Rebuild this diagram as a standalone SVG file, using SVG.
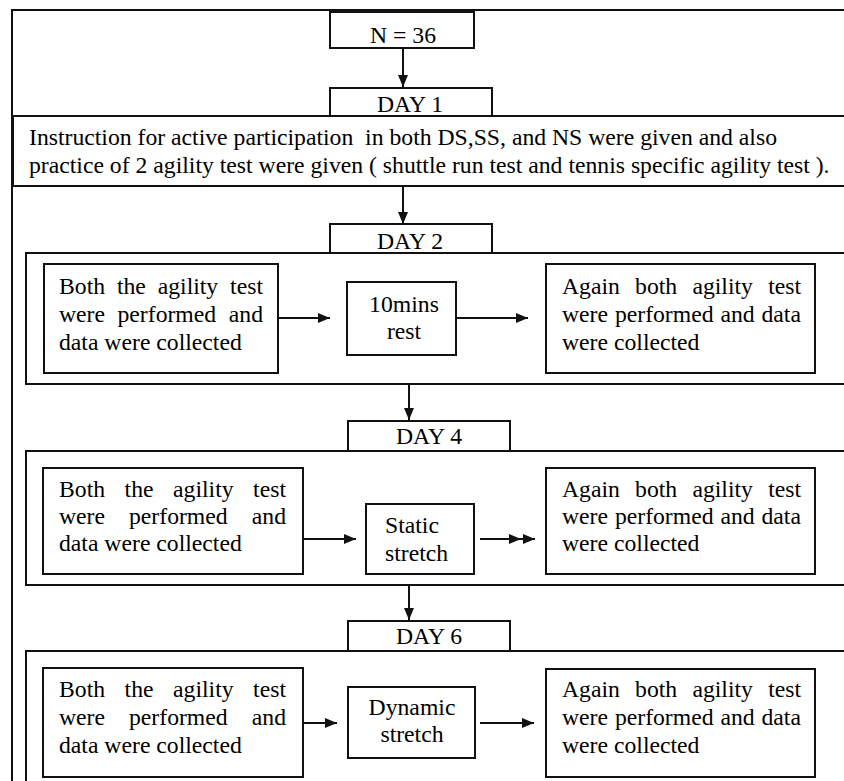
<svg xmlns="http://www.w3.org/2000/svg" width="844" height="781" viewBox="0 0 844 781">
<defs>
<style>
.box{fill:#fff;stroke:#111;stroke-width:2}
.frame{fill:none;stroke:#111;stroke-width:2}
text{font-family:'Liberation Serif','Times New Roman',serif;font-size:23.7px;fill:#000}
.c{text-anchor:middle}
.conn{fill:none;stroke:#111;stroke-width:2;marker-end:url(#ah)}
.dbl{marker-mid:url(#ah)}
</style>
<marker id="ah" markerUnits="userSpaceOnUse" markerWidth="12" markerHeight="10" refX="12" refY="5" orient="auto">
<path d="M0,0 L12,5 L0,10 z" fill="#111"/>
</marker>
</defs>
<rect width="844" height="781" fill="#fff"/>

<g id="frame">
<path class="frame" d="M12,790 V10 H850"/>
</g>

<g id="instruction">
<rect class="box" x="13" y="116" width="840" height="70"/>
<text x="29" y="145" xml:space="preserve">Instruction for active participation  in both DS,SS, and NS were given and also</text>
<text x="29" y="173">practice of 2 agility test were given ( shuttle run test and tennis specific agility test ).</text>
</g>

<g id="n36">
<rect class="box" x="330" y="12" width="144" height="36"/>
<text class="c" x="403" y="43">N = 36</text>
</g>

<g id="day1">
<rect class="box" x="330" y="88" width="162" height="28"/>
<text class="c" x="410" y="112">DAY 1</text>
</g>

<!-- DAY 2 -->
<g id="day2-container">
<rect class="box" x="26" y="253" width="830" height="131"/>
</g>
<g id="day2">
<rect class="box" x="330" y="224" width="162" height="29"/>
<text class="c" x="410" y="249">DAY 2</text>
</g>
<g id="day2-before">
<rect class="box" x="44" y="264" width="234" height="109"/>
<text y="294"><tspan x="59">Both</tspan><tspan x="116.9">the</tspan><tspan x="157.7">agility</tspan><tspan x="230.1">test</tspan></text>
<text y="322"><tspan x="59">were</tspan><tspan x="117.5">performed</tspan><tspan x="228.8">and</tspan></text>
<text x="59" y="350">data were collected</text>
</g>
<g id="day2-rest">
<rect class="box" x="347" y="282" width="109" height="73"/>
<text class="c" x="404" y="312">10mins</text>
<text class="c" x="404" y="339">rest</text>
</g>
<g id="day2-after">
<rect class="box" x="546" y="264" width="269" height="109"/>
<text y="294"><tspan x="562">Again</tspan><tspan x="635.1">both</tspan><tspan x="692.4">agility</tspan><tspan x="768.2">test</tspan></text>
<text y="322"><tspan x="562">were</tspan><tspan x="614.9">performed</tspan><tspan x="720.4">and</tspan><tspan x="761.5">data</tspan></text>
<text x="562" y="350">were collected</text>
</g>

<!-- DAY 4 -->
<g id="day4-container">
<rect class="box" x="26" y="451" width="830" height="134"/>
</g>
<g id="day4">
<rect class="box" x="348" y="421" width="162" height="30"/>
<text class="c" x="429" y="444">DAY 4</text>
</g>
<g id="day4-before">
<rect class="box" x="43" y="468" width="260" height="106"/>
<text y="497"><tspan x="59">Both</tspan><tspan x="124.6">the</tspan><tspan x="173.1">agility</tspan><tspan x="253.1">test</tspan></text>
<text y="524"><tspan x="59">were</tspan><tspan x="129">performed</tspan><tspan x="251.8">and</tspan></text>
<text x="59" y="551">data were collected</text>
</g>
<g id="day4-static">
<rect class="box" x="366" y="504" width="108" height="70"/>
<text x="385" y="533">Static</text>
<text x="385" y="561">stretch</text>
</g>
<g id="day4-after">
<rect class="box" x="546" y="468" width="269" height="106"/>
<text y="497"><tspan x="562">Again</tspan><tspan x="635.1">both</tspan><tspan x="692.4">agility</tspan><tspan x="768.2">test</tspan></text>
<text y="524"><tspan x="562">were</tspan><tspan x="614.9">performed</tspan><tspan x="720.4">and</tspan><tspan x="761.5">data</tspan></text>
<text x="562" y="551">were collected</text>
</g>

<!-- DAY 6 -->
<g id="day6-container">
<rect class="box" x="26" y="651" width="830" height="140"/>
</g>
<g id="day6">
<rect class="box" x="348" y="621" width="162" height="30"/>
<text class="c" x="429" y="644">DAY 6</text>
</g>
<g id="day6-before">
<rect class="box" x="43" y="668" width="260" height="109"/>
<text y="697"><tspan x="59">Both</tspan><tspan x="124.6">the</tspan><tspan x="173.1">agility</tspan><tspan x="253.1">test</tspan></text>
<text y="725"><tspan x="59">were</tspan><tspan x="129">performed</tspan><tspan x="251.8">and</tspan></text>
<text x="59" y="753">data were collected</text>
</g>
<g id="day6-dynamic">
<rect class="box" x="348" y="687" width="127" height="71"/>
<text class="c" x="412" y="715">Dynamic</text>
<text class="c" x="412" y="742">stretch</text>
</g>
<g id="day6-after">
<rect class="box" x="546" y="669" width="269" height="108"/>
<text y="697"><tspan x="562">Again</tspan><tspan x="635.1">both</tspan><tspan x="692.4">agility</tspan><tspan x="768.2">test</tspan></text>
<text y="725"><tspan x="562">were</tspan><tspan x="614.9">performed</tspan><tspan x="720.4">and</tspan><tspan x="761.5">data</tspan></text>
<text x="562" y="753">were collected</text>
</g>

<g id="connectors">
<line class="conn" x1="403" y1="48" x2="403" y2="87"/>
<line class="conn" x1="403" y1="186" x2="403" y2="224"/>
<line class="conn" x1="278" y1="318" x2="330" y2="318"/>
<line class="conn" x1="456" y1="318" x2="528" y2="318"/>
<line class="conn" x1="409" y1="384" x2="409" y2="420"/>
<line class="conn" x1="303" y1="539" x2="356" y2="539"/>
<polyline class="conn dbl" points="480,539 521,539 535,539"/>
<line class="conn" x1="409" y1="585" x2="409" y2="620"/>
<line class="conn" x1="303" y1="723" x2="337" y2="723"/>
<line class="conn" x1="480" y1="723" x2="534" y2="723"/>
</g>
</svg>
